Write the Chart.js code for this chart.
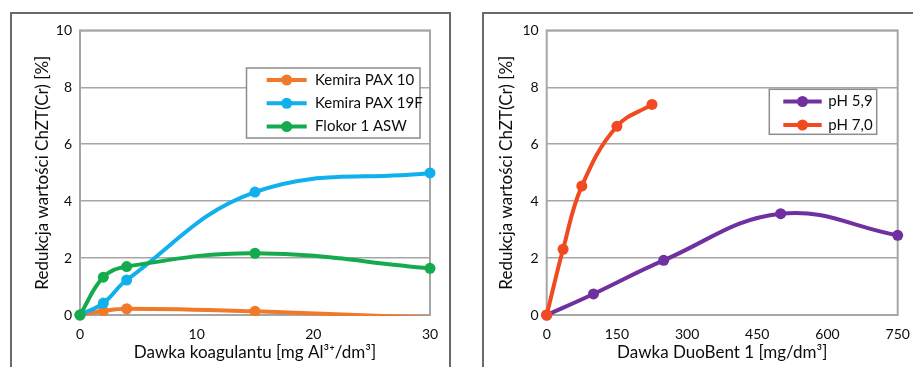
<!DOCTYPE html>
<html>
<head>
<meta charset="utf-8">
<script src="https://cdn.jsdelivr.net/npm/chart.js@4"></script>
<style>
body{margin:0;background:#fff;width:913px;height:367px;overflow:hidden;position:relative}
.panel{position:absolute;top:12px;height:370px;border:2px solid #6a6a6a;border-bottom:none;background:#fff}
#p1{left:10px;width:437px}
#p2{left:482px;width:440px}
canvas{position:absolute;top:14px}
#c1{left:12px}
#c2{left:484px}
</style>
</head>
<body>
<div class="panel" id="p1"></div>
<div class="panel" id="p2"></div>
<canvas id="c1" width="438" height="353"></canvas>
<canvas id="c2" width="429" height="353"></canvas>
<script>
// left chart - coagulants
const doseCoag = [0, 2, 4, 15, 30]
const pax10 = [0, 0.14, 0.22, 0.13, -0.1]
const pax19f = [0, 0.42, 1.23, 4.32, 4.99]
const flokor = [0, 1.33, 1.7, 2.17, 1.64]
const coagTicks = [0, 10, 20, 30]

// right chart - DuoBent 1
const dosePh59 = [0, 100, 250, 500, 750]
const ph59 = [0, 0.74, 1.92, 3.56, 2.8]
const dosePh70 = [0, 35, 75, 150, 225]
const ph70 = [0, 2.31, 4.53, 6.63, 7.4]
const duoTicks = [0, 150, 300, 450, 600, 750]

const FONT = "Lato, 'Open Sans', sans-serif"
const TXT = '#0d0d0d'
Chart.defaults.font.family = FONT
Chart.defaults.color = TXT

const pts = (xs, ys) => xs.map((x, i) => ({x: x, y: ys[i]}))

const plotFrame = {
    id: 'plotFrame',
    beforeDatasetsDraw(chart){
        const a = chart.chartArea, ctx = chart.ctx
        ctx.save()
        ctx.strokeStyle = '#a6a6a6'
        ctx.lineWidth = 2
        ctx.strokeRect(a.left, a.top, a.right - a.left, a.bottom - a.top)
        ctx.restore()
    }
}

const legendBox = {
    id: 'legendBox',
    afterDatasetsDraw(chart, args, o){
        const ctx = chart.ctx
        ctx.save()
        ctx.fillStyle = '#fff'
        ctx.fillRect(o.x, o.y, o.w, o.h)
        ctx.strokeStyle = '#8c8c8c'
        ctx.lineWidth = 1.5
        ctx.strokeRect(o.x, o.y, o.w, o.h)
        chart.data.datasets.forEach((ds, i) => {
            const y = o.row0 + i * o.gap
            ctx.strokeStyle = ds.borderColor
            ctx.lineWidth = 4
            ctx.beginPath()
            ctx.moveTo(o.l1, y)
            ctx.lineTo(o.l2, y)
            ctx.stroke()
            ctx.fillStyle = ds.borderColor
            ctx.beginPath()
            ctx.arc((o.l1 + o.l2) / 2, y, 5.5, 0, Math.PI * 2)
            ctx.fill()
            ctx.fillStyle = TXT
            ctx.font = '15px ' + FONT
            ctx.textBaseline = 'middle'
            ctx.fillText(ds.label, o.tx, y)
        })
        ctx.restore()
    }
}

const lineSet = function(label, data, color, extra){
    return Object.assign({
        label: label,
        data: data,
        borderColor: color,
        backgroundColor: color,
        borderWidth: 4,
        pointRadius: 5.5,
        pointHoverRadius: 5.5,
        pointBorderWidth: 0,
        tension: 0.4,
        clip: false
    }, extra)
}

const makeChart = function(id, datasets, xTicks, xMax, xTitle, lay, legend){
    new Chart(document.getElementById(id), {
        type: 'line',
        data: {datasets: datasets},
        plugins: [plotFrame, legendBox],
        options: {
            responsive: false,
            animation: false,
            layout: {padding: lay.pad},
            plugins: {legend: {display: false}, tooltip: {enabled: false}, legendBox: legend},
            scales: {
                x: {
                    type: 'linear', min: 0, max: xMax,
                    afterBuildTicks: s => { s.ticks = xTicks.map(v => ({value: v})) },
                    afterFit: s => { s.height = lay.xh },
                    grid: {display: false},
                    border: {display: false},
                    ticks: {padding: 3, font: {size: 14}, maxRotation: 0},
                    title: {display: true, text: xTitle, font: {size: 17}, padding: 0}
                },
                y: {
                    min: 0, max: 10,
                    afterFit: s => { s.width = lay.yw },
                    grid: {color: '#a6a6a6', lineWidth: 1.5, drawTicks: false},
                    border: {display: false},
                    ticks: {stepSize: 2, padding: 8, font: {size: 14}},
                    title: {display: true, text: 'Redukcja wartości ChZT(Cr) [%]', font: {size: 17}, padding: 0}
                }
            }
        }
    })
}

makeChart('c1', [
    lineSet('Kemira PAX 10', pts(doseCoag, pax10), '#f07a2a',
        {order: 3, pointRadius: [5.5, 5.5, 5.5, 5.5, 0], clip: {left: 8, top: 8, right: 8, bottom: 1}}),
    lineSet('Kemira PAX 19F', pts(doseCoag, pax19f), '#0fb0ec', {order: 2}),
    lineSet('Flokor 1 ASW', pts(doseCoag, flokor), '#14ab4f', {order: 1})
], coagTicks, 30, 'Dawka koagulantu [mg Al³⁺/dm³]',
    {pad: {left: 20, top: 15, right: 20, bottom: 4}, yw: 48, xh: 48},
    {x: 234.5, y: 54, w: 173.5, h: 70, row0: 66, gap: 23.3, l1: 254.7, l2: 294.7, tx: 303})

makeChart('c2', [
    lineSet('pH 5,9', pts(dosePh59, ph59), '#7030a0', {order: 2}),
    lineSet('pH 7,0', pts(dosePh70, ph70), '#f14a21', {order: 1})
], duoTicks, 750, 'Dawka DuoBent 1 [mg/dm³]',
    {pad: {left: 12.5, top: 15, right: 15.3, bottom: 4}, yw: 50.2, xh: 48},
    {x: 285.3, y: 75.3, w: 107.4, h: 45, row0: 87.5, gap: 23.5, l1: 299.3, l2: 337.7, tx: 344.3})
</script>
</body>
</html>
